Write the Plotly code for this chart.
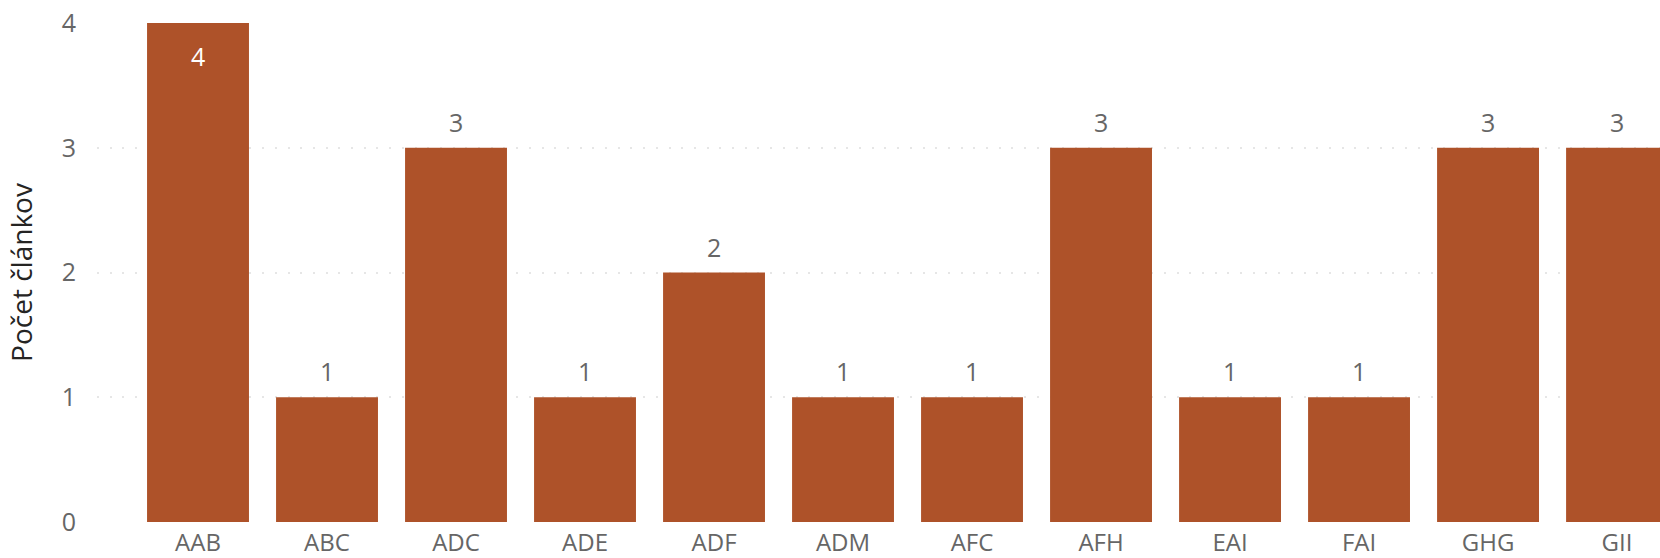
import plotly.graph_objects as go

# Article counts per code
categories = ["AAB", "ABC", "ADC", "ADE", "ADF", "ADM", "AFC", "AFH", "EAI", "FAI", "GHG", "GII"]
counts = [4, 1, 3, 1, 2, 1, 1, 3, 1, 1, 3, 3]
y_ticks = [0, 1, 2, 3, 4]

BAR_COLOR = "#AE5229"
LABEL_GRAY = "#666666"
FONT = "Segoe UI, Open Sans, sans-serif"
Y_MAX = max(counts)

fig = go.Figure(
    go.Bar(
        x=list(range(len(categories))),
        y=counts,
        marker=dict(color=BAR_COLOR, line=dict(width=0)),
        width=0.79,
        hoverinfo="skip",
    )
)

# value labels: inside the bar when it reaches the top of the axis, above it otherwise
annotations = []
for i, v in enumerate(counts):
    inside = v >= Y_MAX
    annotations.append(
        dict(
            x=i,
            y=v,
            xref="x",
            yref="y",
            text=str(v),
            showarrow=False,
            yanchor="top" if inside else "bottom",
            yshift=-14 if inside else 7,
            font=dict(family=FONT, size=25, color="white" if inside else LABEL_GRAY),
        )
    )

fig.update_layout(
    width=1660,
    height=558,
    margin=dict(l=97, r=0, t=23, b=36, autoexpand=False),
    paper_bgcolor="white",
    plot_bgcolor="white",
    showlegend=False,
    bargap=0.21,
    annotations=annotations,
    font=dict(family=FONT, size=25, color=LABEL_GRAY),
)

fig.update_xaxes(
    tickmode="array",
    tickvals=list(range(len(categories))),
    ticktext=categories,
    range=[-0.783, 11.333],
    showgrid=False,
    zeroline=False,
    showline=False,
    ticks="",
    ticklabelstandoff=4,
    tickfont=dict(family=FONT, size=24, color=LABEL_GRAY),
    automargin=False,
)

fig.update_yaxes(
    range=[0, 4.001],
    tickmode="array",
    tickvals=y_ticks,
    ticktext=[str(t) for t in y_ticks],
    showgrid=True,
    gridcolor="#E6E6E6",
    gridwidth=2,
    griddash="2px,10.7px",
    zeroline=False,
    showline=False,
    ticks="",
    ticklabelstandoff=20,
    tickfont=dict(family=FONT, size=25, color=LABEL_GRAY),
    title=dict(text="Počet článkov", font=dict(family=FONT, size=28, color="#252423"), standoff=20),
    automargin=False,
)

fig.write_html("out.html")
